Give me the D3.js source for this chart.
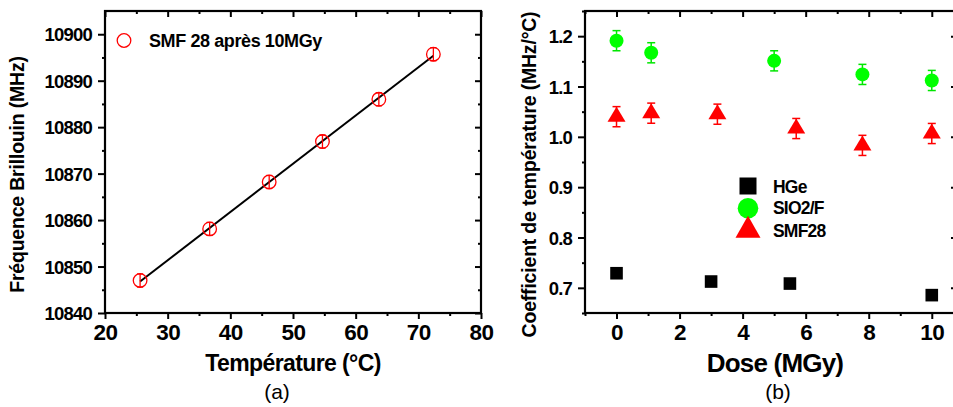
<!DOCTYPE html>
<html><head><meta charset="utf-8">
<script src="https://cdn.jsdelivr.net/npm/d3@7"></script>
<style>
html,body{margin:0;padding:0;background:#fff;}
svg{display:block;font-family:Arial,"Liberation Sans",sans-serif;}
.tick text{font-weight:bold;fill:#000;}
</style></head><body>
<svg id="c" width="953" height="407"></svg>
<script>
// ---------- Panel (a) data ----------
const tempC = [25.6, 36.7, 46.2, 54.7, 63.7, 72.4];
const freqMHz = [10847.0, 10858.1, 10868.2, 10876.9, 10886.0, 10895.7];
const freqErr = [1.4, 1.4, 1.4, 1.4, 1.4, 1.4];
const aXTicks = [20, 30, 40, 50, 60, 70, 80];
const aYTicks = [10840, 10850, 10860, 10870, 10880, 10890, 10900];
const aLegend = "SMF 28 après 10MGy";

// ---------- Panel (b) data ----------
const hgeDose = [0, 3, 5.5, 10];
const hgeCoef = [0.729, 0.7125, 0.7085, 0.6855];
const sioDose = [0, 1.1, 5, 7.8, 10];
const sioCoef = [1.191, 1.167, 1.151, 1.124, 1.112];
const sioErr = [0.02, 0.02, 0.02, 0.02, 0.02];
const smfDose = [0, 1.1, 3.2, 5.7, 7.8, 10];
const smfCoef = [1.040, 1.047, 1.045, 1.0165, 0.983, 1.0066];
const smfErr = [0.02, 0.02, 0.02, 0.02, 0.02, 0.02];
const bXTicks = [0, 2, 4, 6, 8, 10];
const bYTicks = [0.7, 0.8, 0.9, 1.0, 1.1, 1.2];
const bLegend = ["HGe", "SIO2/F", "SMF28"];

const svg = d3.select("#c");
svg.append("rect").attr("width",953).attr("height",407).attr("fill","#fff");

function frame(g, x, y, xTicks, xMinor, yTicks, yMinor, yFmt, xFmt){
  const [x0,x1] = x.range(), [y1,y0] = y.range();
  const style = sel => { sel.select(".domain").remove();
    sel.selectAll("line").attr("stroke","#000").attr("stroke-width",2); };
  // minor ticks
  g.append("g").attr("transform",`translate(0,${y1})`).call(d3.axisBottom(x).tickValues(xMinor).tickSize(3).tickFormat("")).call(style);
  g.append("g").attr("transform",`translate(0,${y0})`).call(d3.axisTop(x).tickValues(xMinor).tickSize(-3).tickFormat("")).call(style);
  g.append("g").attr("transform",`translate(${x0},0)`).call(d3.axisLeft(y).tickValues(yMinor).tickSize(3).tickFormat("")).call(style);
  g.append("g").attr("transform",`translate(${x1},0)`).call(d3.axisRight(y).tickValues(yMinor).tickSize(-3).tickFormat("")).call(style);
  // major
  const bx = g.append("g").attr("transform",`translate(0,${y1})`).call(d3.axisBottom(x).tickValues(xTicks).tickSize(6).tickPadding(4).tickFormat(xFmt)).call(style);
  bx.selectAll("text").attr("font-size",22.5).attr("dy",null).attr("y",27).attr("letter-spacing",-0.5);
  g.append("g").attr("transform",`translate(0,${y0})`).call(d3.axisTop(x).tickValues(xTicks).tickSize(-6).tickFormat("")).call(style);
  const ly = g.append("g").attr("transform",`translate(${x0},0)`).call(d3.axisLeft(y).tickValues(yTicks).tickSize(7).tickPadding(6).tickFormat(yFmt)).call(style);
  ly.selectAll("text").attr("font-size",18.5).attr("letter-spacing",-0.8).attr("dy","0.36em");
  g.append("g").attr("transform",`translate(${x1},0)`).call(d3.axisRight(y).tickValues(yTicks).tickSize(-6).tickFormat("")).call(style);
  // frame lines
  g.append("rect").attr("x",x0).attr("y",y0).attr("width",x1-x0).attr("height",y1-y0)
    .attr("fill","none").attr("stroke","#000").attr("stroke-width",2.2);
}

// ---------- Panel (a) ----------
const ax = d3.scaleLinear().domain([20,80]).range([105,481]);
const ay = d3.scaleLinear().domain([10840,10905]).range([313,11]);
const ga = svg.append("g");
frame(ga, ax, ay, aXTicks, d3.range(25,80,10), aYTicks, d3.range(10845,10905,10), d3.format("d"), d3.format("d"));

// least-squares fit from the data
const n = tempC.length, mx = d3.mean(tempC), my = d3.mean(freqMHz);
const slope = d3.sum(tempC.map((t,i)=>(t-mx)*(freqMHz[i]-my))) / d3.sum(tempC.map(t=>(t-mx)*(t-mx)));
const icpt = my - slope*mx;
const fitX = [tempC[0], tempC[n-1]];
ga.append("path").attr("d", d3.line().x(d=>ax(d)).y(d=>ay(icpt+slope*d))(fitX))
  .attr("stroke","#000").attr("stroke-width",2).attr("fill","none");

const pa = ga.selectAll(".pa").data(tempC.map((t,i)=>({t,f:freqMHz[i],e:freqErr[i]}))).join("g");
pa.append("line").attr("x1",d=>ax(d.t)).attr("x2",d=>ax(d.t)).attr("y1",d=>ay(d.f-d.e)).attr("y2",d=>ay(d.f+d.e)).attr("stroke","#f00").attr("stroke-width",1.3);
pa.append("line").attr("x1",d=>ax(d.t)-3).attr("x2",d=>ax(d.t)+3).attr("y1",d=>ay(d.f+d.e)).attr("y2",d=>ay(d.f+d.e)).attr("stroke","#f00").attr("stroke-width",1.3);
pa.append("line").attr("x1",d=>ax(d.t)-3).attr("x2",d=>ax(d.t)+3).attr("y1",d=>ay(d.f-d.e)).attr("y2",d=>ay(d.f-d.e)).attr("stroke","#f00").attr("stroke-width",1.3);
pa.append("circle").attr("cx",d=>ax(d.t)).attr("cy",d=>ay(d.f)).attr("r",6.8).attr("fill","none").attr("stroke","#f00").attr("stroke-width",1.3);

// legend (a)
ga.append("circle").attr("cx",124).attr("cy",40.5).attr("r",6.8).attr("fill","none").attr("stroke","#f00").attr("stroke-width",1.3);
ga.append("text").attr("x",149).attr("y",46.5).attr("font-size",18).attr("font-weight","bold").attr("letter-spacing",-0.4).text(aLegend);

// axis titles (a)
ga.append("text").attr("x",293).attr("y",371).attr("text-anchor","middle").attr("font-size",23).attr("font-weight","bold").attr("letter-spacing",-0.6).text("Température (°C)");
ga.append("text").attr("transform","translate(24,174.5) rotate(-90)").attr("text-anchor","middle").attr("font-size",19.5).attr("font-weight","bold").attr("letter-spacing",-0.2).text("Fréquence Brillouin (MHz)");
ga.append("text").attr("x",277).attr("y",399).attr("text-anchor","middle").attr("font-size",21).text("(a)");

// ---------- Panel (b) ----------
const bx = d3.scaleLinear().domain([-1,10.8]).range([585,957]);
const by = d3.scaleLinear().domain([0.65,1.25]).range([313,11]);
const gb = svg.append("g");
frame(gb, bx, by, bXTicks, d3.range(-1,11,2), bYTicks, [0.65,0.75,0.85,0.95,1.05,1.15,1.25], d3.format(".1f"), d3.format("d"));

function errBars(data, color){
  const e = gb.append("g");
  const s = e.selectAll("g").data(data).join("g");
  s.append("line").attr("x1",d=>bx(d.x)).attr("x2",d=>bx(d.x)).attr("y1",d=>by(d.y-d.e)).attr("y2",d=>by(d.y+d.e)).attr("stroke",color).attr("stroke-width",1.5);
  [1,-1].forEach(k=> s.append("line").attr("x1",d=>bx(d.x)-4).attr("x2",d=>bx(d.x)+4).attr("y1",d=>by(d.y+k*d.e)).attr("y2",d=>by(d.y+k*d.e)).attr("stroke",color).attr("stroke-width",1.5));
}
const sioData = sioDose.map((x,i)=>({x,y:sioCoef[i],e:sioErr[i]}));
const smfData = smfDose.map((x,i)=>({x,y:smfCoef[i],e:smfErr[i]}));
const hgeData = hgeDose.map((x,i)=>({x,y:hgeCoef[i]}));
errBars(sioData, "#00e600");
errBars(smfData, "#f00");

const tri = (w,h) => `M0,${-h*2/3}L${w/2},${h/3}L${-w/2},${h/3}Z`;
gb.selectAll(".sio").data(sioData).join("circle").attr("cx",d=>bx(d.x)).attr("cy",d=>by(d.y)).attr("r",7).attr("fill","#00ff00");
gb.selectAll(".smf").data(smfData).join("path").attr("transform",d=>`translate(${bx(d.x)},${by(d.y)})`).attr("d",tri(18,15)).attr("fill","#f00");
gb.selectAll(".hge").data(hgeData).join("rect").attr("x",d=>bx(d.x)-6.3).attr("y",d=>by(d.y)-6.3).attr("width",12.6).attr("height",12.6).attr("fill","#000");

// legend (b)
const lg = gb.append("g");
lg.append("rect").attr("x",748-8.5).attr("y",186-8.5).attr("width",17).attr("height",17).attr("fill","#000");
lg.append("circle").attr("cx",748).attr("cy",208.3).attr("r",10.3).attr("fill","#00ff00");
lg.append("path").attr("transform","translate(748,230.5)").attr("d",tri(25,22)).attr("fill","#f00");
[192.5, 214, 236.5].forEach((yy,i)=> lg.append("text").attr("x",773).attr("y",yy).attr("font-size",17.5).attr("font-weight","bold").attr("letter-spacing",-0.8).text(bLegend[i]));

gb.append("text").attr("x",775).attr("y",372).attr("text-anchor","middle").attr("font-size",26).attr("font-weight","bold").attr("letter-spacing",-0.8).text("Dose (MGy)");
gb.append("text").attr("transform","translate(536,174.5) rotate(-90)").attr("text-anchor","middle").attr("font-size",19.5).attr("font-weight","bold").attr("letter-spacing",-0.2).text("Coefficient de température (MHz/°C)");
gb.append("text").attr("x",778).attr("y",399).attr("text-anchor","middle").attr("font-size",21).text("(b)");
</script></body></html>
